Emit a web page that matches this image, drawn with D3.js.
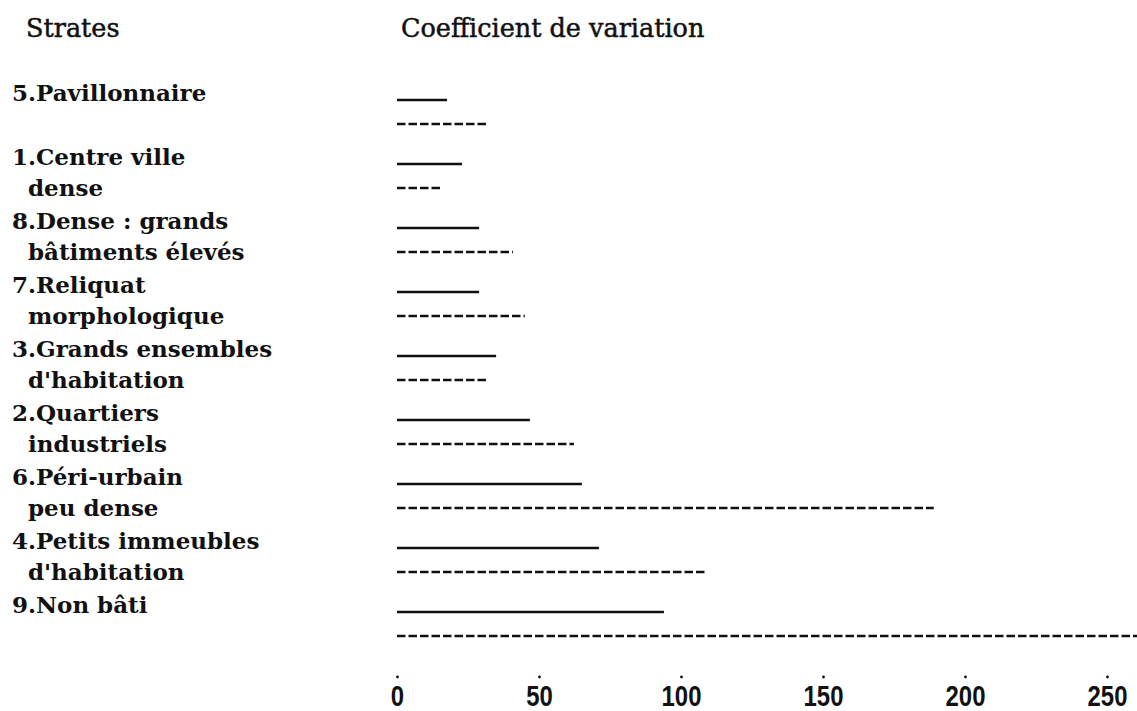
<!DOCTYPE html>
<html>
<head>
<meta charset="utf-8">
<script src="https://cdn.jsdelivr.net/npm/d3@7"></script>
<style>
  body { margin: 0; background: #fff; }
  .label { font-family: "DejaVu Serif", serif; font-weight: bold; font-size: 23px; fill: #111; }
  .header { font-family: "DejaVu Serif", serif; font-size: 25.5px; fill: #111; stroke: #111; stroke-width: 0.5px; }
  .tick text { font-family: "Liberation Sans", Arial, sans-serif; font-weight: bold; font-size: 30px; fill: #111; }
</style>
</head>
<body>
<div id="chart"></div>
<script>
// strata labels (each entry = lines of the label)
const strata = [
    ["5.Pavillonnaire"],
    ["1.Centre ville", "dense"],
    ["8.Dense : grands", "bâtiments élevés"],
    ["7.Reliquat", "morphologique"],
    ["3.Grands ensembles", "d'habitation"],
    ["2.Quartiers", "industriels"],
    ["6.Péri-urbain", "peu dense"],
    ["4.Petits immeubles", "d'habitation"],
    ["9.Non bâti"]
];

// coefficient de variation, solid line series
const solidValues = [17.6, 22.9, 28.9, 28.9, 34.9, 46.8, 65.1, 71.1, 94.0];
// coefficient de variation, dashed line series
const dashedValues = [32.0, 15.5, 40.8, 45.0, 32.0, 62.3, 189.0, 108.5, 262.0];

const tickValues = [0, 50, 100, 150, 200, 250];

const width = 1137;
const height = 711;

const svg = d3.select("#chart").append("svg")
    .attr("width", width)
    .attr("height", height);

svg.append("rect")
    .attr("width", width)
    .attr("height", height)
    .attr("fill", "#fff");

const x = d3.scaleLinear().domain([0, 250]).range([397, 1107]);
// row position of the solid line for each stratum
const y = d3.scaleLinear().domain([0, strata.length - 1]).range([100, 612]);
const dashOffset = 24;

// headers
svg.append("text")
    .attr("class", "header")
    .attr("x", 26)
    .attr("y", 37)
    .text("Strates");

svg.append("text")
    .attr("class", "header")
    .attr("x", 401)
    .attr("y", 37)
    .text("Coefficient de variation");

// labels
const labels = svg.append("g").selectAll("text")
    .data(strata)
    .join("text")
    .attr("class", "label");

labels.selectAll("tspan")
    .data((d, i) => d.map((line, j) => ({line, j, i})))
    .join("tspan")
    .attr("x", d => d.j === 0 ? 12 : 28)
    .attr("y", d => d.j === 0 ? y(d.i) + 1 : y(d.i) + dashOffset + 8)
    .text(d => d.line);

// solid lines
svg.append("g").selectAll("line")
    .data(solidValues)
    .join("line")
    .attr("x1", x(0))
    .attr("x2", d => x(d))
    .attr("y1", (d, i) => y(i))
    .attr("y2", (d, i) => y(i))
    .attr("stroke", "#111")
    .attr("stroke-width", 2.7);

// dashed lines
svg.append("g").selectAll("line")
    .data(dashedValues)
    .join("line")
    .attr("x1", x(0))
    .attr("x2", d => x(d))
    .attr("y1", (d, i) => y(i) + dashOffset)
    .attr("y2", (d, i) => y(i) + dashOffset)
    .attr("stroke", "#111")
    .attr("stroke-width", 2.5)
    .attr("stroke-dasharray", "8.5,3");

// axis: dots + narrow numbers
const axis = svg.append("g")
    .attr("transform", "translate(0,677)")
    .call(d3.axisBottom(x).tickValues(tickValues).tickSize(0).tickPadding(0));

axis.select(".domain").remove();

axis.selectAll(".tick")
    .append("circle")
    .attr("r", 1.4)
    .attr("fill", "#111");

axis.selectAll(".tick text")
    .attr("y", 29)
    .attr("dy", 0)
    .attr("textLength", d => String(d).length * 13.3)
    .attr("lengthAdjust", "spacingAndGlyphs");
</script>
</body>
</html>
